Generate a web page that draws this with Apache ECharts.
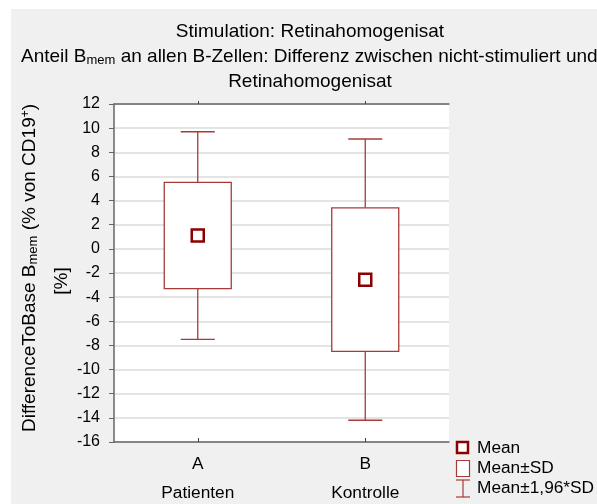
<!DOCTYPE html>
<html><head><meta charset="utf-8">
<script src="https://cdn.jsdelivr.net/npm/echarts@6/dist/echarts.min.js"></script>
<style>html,body{margin:0;padding:0;background:#fff}#c{width:597px;height:504px}</style>
</head><body><div id="c"></div>
<script>
const categories = ['A', 'B'];
const groupNames = ['Patienten', 'Kontrolle'];
const means = [1.1, -2.55];
const sdLow = [-3.3, -8.5];
const sdHigh = [5.5, 3.4];
const ciLow = [-7.5, -14.2];
const ciHigh = [9.7, 9.1];
const yTicks = { min: -16, max: 12, interval: 2 };

const F = 'Liberation Sans, Arial, sans-serif';
const TF = 19;
const boxColor = '#a83a3a';
const meanColor = '#8b0000';

const boxData = categories.map((c, i) => [i, sdLow[i], sdHigh[i]]);
const whiskData = categories.map((c, i) => [i, ciLow[i], ciHigh[i], sdLow[i], sdHigh[i]]);
const meanData = categories.map((c, i) => [i, means[i]]);

const chart = echarts.init(document.getElementById('c'));
const YF = 19;
const LF = 17.3;
chart.setOption({
  backgroundColor: '#fff',
  animation: false,
  grid: { left: 114, top: 104, right: 148, bottom: 62, show: true, backgroundColor: '#fff', borderWidth: 0, containLabel: false, outerBoundsMode: 'none' },
  graphic: [
    { type: 'rect', z: -10, shape: { x: 11, y: 9, width: 600, height: 500 }, style: { fill: '#f0f0f0' }, silent: true },
    { type: 'text', x: 310, y: 32, style: { text: 'Stimulation: Retinahomogenisat', font: TF + 'px ' + F, fill: '#000', align: 'center', verticalAlign: 'middle' } },
    { type: 'text', x: 21, y: 57, style: { text: '{n|Anteil B}{sub|mem}{n| an allen B-Zellen: Differenz zwischen nicht-stimuliert und}', verticalAlign: 'middle', rich: { n: { fontFamily: F, fontSize: TF, fill: '#000', lineHeight: 20 }, sub: { fontFamily: F, fontSize: 13, fill: '#000', lineHeight: 13, verticalAlign: 'bottom' } } } },
    { type: 'text', x: 310, y: 82, style: { text: 'Retinahomogenisat', font: TF + 'px ' + F, fill: '#000', align: 'center', verticalAlign: 'middle' } },
    { type: 'text', x: 30, y: 268, rotation: Math.PI / 2, style: { text: '{n|DifferenceToBase B}{sub|mem}{n| (% von CD19}{sup|+}{n|)}', align: 'center', verticalAlign: 'middle', rich: { n: { fontFamily: F, fontSize: YF, fill: '#000', lineHeight: 20 }, sub: { fontFamily: F, fontSize: 13, fill: '#000', lineHeight: 13, verticalAlign: 'bottom' }, sup: { fontFamily: F, fontSize: 12, fill: '#000', lineHeight: 13, verticalAlign: 'top' } } } },
    { type: 'text', x: 62, y: 281, rotation: Math.PI / 2, style: { text: '[%]', font: YF + 'px ' + F, fill: '#000', align: 'center', verticalAlign: 'middle' } },
    { type: 'rect', shape: { x: 457, y: 442, width: 11, height: 11 }, style: { fill: '#fff', stroke: meanColor, lineWidth: 2.5 } },
    { type: 'rect', shape: { x: 456.5, y: 460.5, width: 13, height: 16 }, style: { fill: '#fff', stroke: boxColor, lineWidth: 1.2 } },
    { type: 'polyline', shape: { points: [[456, 480], [470, 480]] }, style: { stroke: boxColor, lineWidth: 1.2 } },
    { type: 'polyline', shape: { points: [[463, 480], [463, 497]] }, style: { stroke: boxColor, lineWidth: 1.2 } },
    { type: 'polyline', shape: { points: [[456, 497], [470, 497]] }, style: { stroke: boxColor, lineWidth: 1.2 } },
    { type: 'text', x: 477, y: 448, style: { text: 'Mean', font: LF + 'px ' + F, fill: '#000', verticalAlign: 'middle' } },
    { type: 'text', x: 477, y: 468, style: { text: 'Mean±SD', font: LF + 'px ' + F, fill: '#000', verticalAlign: 'middle' } },
    { type: 'text', x: 477, y: 488, style: { text: 'Mean±1,96*SD', font: LF + 'px ' + F, fill: '#000', verticalAlign: 'middle' } }
  ],
  xAxis: [{
    type: 'category', data: categories, boundaryGap: true,
    axisLine: { show: true, onZero: false, lineStyle: { color: '#666', width: 1.5 } },
    axisTick: { show: true, inside: true, length: 4, alignWithLabel: true, lineStyle: { color: '#444' } },
    axisLabel: {
      margin: 8, lineHeight: 29, fontFamily: F, fontSize: LF, color: '#000',
      formatter: (v, i) => v + '\n' + groupNames[i]
    },
    splitLine: { show: false }
  }, {
    type: 'category', data: categories, boundaryGap: true, position: 'top',
    axisLine: { show: true, onZero: false, lineStyle: { color: '#666', width: 1.5 } },
    axisTick: { show: true, inside: false, length: 3, alignWithLabel: true, lineStyle: { color: '#444' } },
    axisLabel: { show: false },
    splitLine: { show: false }
  }],
  yAxis: {
    type: 'value', min: yTicks.min, max: yTicks.max, interval: yTicks.interval,
    axisLine: { show: true, onZero: false, lineStyle: { color: '#666', width: 1.5 } },
    axisTick: { show: true, length: 5, lineStyle: { color: '#666' } },
    axisLabel: { margin: 14, fontFamily: F, fontSize: 16, color: '#000' },
    splitLine: { show: true, lineStyle: { color: '#e4e4e4', width: 2 } }
  },
  series: [
    {
      type: 'custom', name: 'Mean±1,96*SD', data: whiskData, z: 2,
      renderItem: (params, api) => {
        const x = api.value(0);
        const lo = api.coord([x, api.value(1)]);
        const hi = api.coord([x, api.value(2)]);
        const bl = api.coord([x, api.value(3)]);
        const bh = api.coord([x, api.value(4)]);
        const cap = 17;
        const st = { stroke: boxColor, lineWidth: 1.3, fill: null };
        return { type: 'group', children: [
          { type: 'line', shape: { x1: hi[0] - cap, y1: hi[1], x2: hi[0] + cap, y2: hi[1] }, style: st },
          { type: 'line', shape: { x1: hi[0], y1: hi[1], x2: bh[0], y2: bh[1] }, style: st },
          { type: 'line', shape: { x1: bl[0], y1: bl[1], x2: lo[0], y2: lo[1] }, style: st },
          { type: 'line', shape: { x1: lo[0] - cap, y1: lo[1], x2: lo[0] + cap, y2: lo[1] }, style: st }
        ] };
      }
    },
    {
      type: 'custom', name: 'Mean±SD', data: boxData, z: 3,
      renderItem: (params, api) => {
        const x = api.value(0);
        const lo = api.coord([x, api.value(1)]);
        const hi = api.coord([x, api.value(2)]);
        const w = 67;
        return { type: 'rect', shape: { x: lo[0] - w / 2, y: hi[1], width: w, height: lo[1] - hi[1] }, style: { fill: '#fff', stroke: boxColor, lineWidth: 1.3 } };
      }
    },
    {
      type: 'scatter', name: 'Mean', data: meanData, z: 4,
      symbol: 'rect', symbolSize: 12,
      itemStyle: { color: '#fff', borderColor: meanColor, borderWidth: 2.5, opacity: 1 }
    }
  ]
});
</script></body></html>
